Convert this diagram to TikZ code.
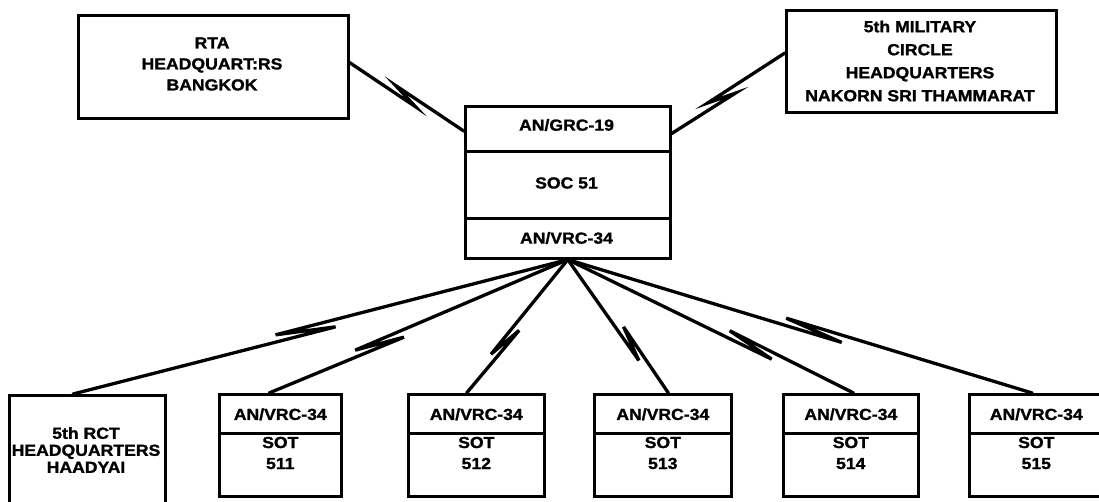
\documentclass[tikz,border=0pt]{standalone}
\usepackage{fontspec}
\newfontfamily\lbl{Liberation Sans}[FakeStretch=1.1, BoldFeatures={FakeBold=1.3}]
\usetikzlibrary{calc}
\tikzset{
  box/.style={draw=black, line width=2.6pt, rectangle, inner sep=0pt, anchor=north west},
  txt/.style={font=\lbl\bfseries\fontsize{16}{21}\selectfont, align=center, inner sep=0pt, text=black},
  link/.style={draw=black, line width=3.3pt, line join=miter, line cap=round}
}
\newcommand\zlink[5]{%
  \path ($(#1)!#3!(#2)$) coordinate (zm);
  \path ($(zm)!#4!(#2)$) coordinate (zpa);
  \path ($(zm)!#4!(#1)$) coordinate (zqa);
  \path ($(zpa)!#5!-90:(#2)$) coordinate (zp);
  \path ($(zqa)!#5!-90:(#1)$) coordinate (zq);
  \draw[link] (#1) -- (zp) -- (zq) -- (#2);
}
\begin{document}
\begin{tikzpicture}[x=1pt,y=-1pt]
\useasboundingbox[fill=white] (0,0) rectangle (1099,501);

% top boxes
\node[box, minimum width=270pt, minimum height=103pt] (tl) at (77,14) {};
\node[txt] (tlt) at (212,64) {RTA\\HEADQUART:RS\\BANGKOK};
\node[box, minimum width=270pt, minimum height=102pt] (tr) at (785,9) {};
\node[txt] (trt) at (920,61) {5th MILITARY\\[2pt]CIRCLE\\[2pt]HEADQUARTERS\\[2pt]NAKORN SRI THAMMARAT};

% centre box
\node[box, minimum width=205pt, minimum height=45pt] (c1) at (464,105) {};
\node[box, minimum width=205pt, minimum height=67pt] (c2) at (464,150) {};
\node[box, minimum width=205pt, minimum height=40pt] (c3) at (464,217) {};
\node[txt] (c1t) at (566.5,125) {AN/GRC-19};
\node[txt] (c2t) at (566.5,183) {SOC 51};
\node[txt] (c3t) at (566.5,238) {AN/VRC-34};

% bottom boxes
\node[box, minimum width=156pt, minimum height=112pt] (b1) at (8,394) {};
\node[txt] (b1t) at (86,450) {5th RCT\\[-4pt]HEADQUARTERS\\[-4pt]HAADYAI};

\foreach \n/\xl/\w/\num in {2/218/122/511, 3/407/136/512, 4/593/137/513, 5/782/135/514, 6/968/134/515}{
  \node[box, minimum width=\w pt, minimum height=39pt] (h\n) at (\xl,393) {};
  \node[box, minimum width=\w pt, minimum height=63pt] (s\n) at (\xl,432) {};
  \node[txt] (ht\n) at ($(h\n.center)+(0,0.5)$) {AN/VRC-34};
  \node[txt] (st\n) at ($(s\n.north)+(0,21)$) {SOT\\\num};
}

% attachment coordinates
\coordinate (hub) at ($(c3.south west)!0.5!(c3.south east)$);
\coordinate (tla) at ($(tl.north east)!0.46!(tl.south east)$);
\coordinate (c1w) at ($(c1.north west)!0.55!(c1.south west)$);
\coordinate (c1e) at ($(c1.north east)!0.6!(c1.south east)$);
\coordinate (tra) at ($(tr.north west)!0.42!(tr.south west)$);
\coordinate (a1) at ($(b1.north west)!0.41!(b1.north east)$);
\coordinate (a2) at ($(h2.north west)!0.41!(h2.north east)$);
\coordinate (a3) at ($(h3.north west)!0.43!(h3.north east)$);
\coordinate (a4) at ($(h4.north west)!0.54!(h4.north east)$);
\coordinate (a5) at ($(h5.north west)!0.52!(h5.north east)$);
\coordinate (a6) at ($(h6.north west)!0.47!(h6.north east)$);

% radio links
\zlink{tla}{c1w}{0.49}{14pt}{4pt}
\zlink{c1e}{tra}{0.44}{14pt}{4pt}
\zlink{hub}{a1}{0.53}{30pt}{4pt}
\zlink{hub}{a2}{0.63}{25pt}{4pt}
\zlink{hub}{a3}{0.62}{18pt}{4pt}
\zlink{hub}{a4}{0.63}{18pt}{4pt}
\zlink{hub}{a5}{0.64}{25pt}{4pt}
\zlink{hub}{a6}{0.53}{30pt}{4pt}
\end{tikzpicture}
\end{document}
